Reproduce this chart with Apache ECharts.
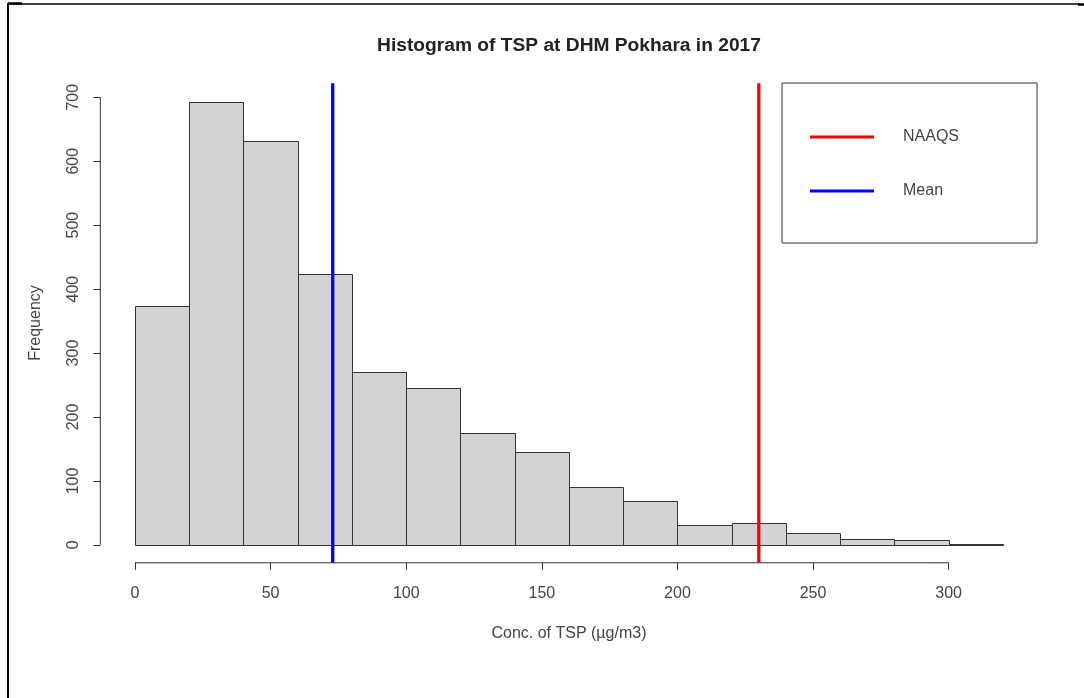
<!DOCTYPE html>
<html>
<head>
<meta charset="utf-8">
<script src="https://cdn.jsdelivr.net/npm/echarts@6/dist/echarts.min.js"></script>
<style>html,body{margin:0;padding:0;background:#fff;}#c{width:1084px;height:698px;}</style>
</head>
<body>
<div id="c"></div>
<script>
// ---- data ----
const binStart = [0, 20, 40, 60, 80, 100, 120, 140, 160, 180, 200, 220, 240, 260, 280, 300];
const binEnd   = [20, 40, 60, 80, 100, 120, 140, 160, 180, 200, 220, 240, 260, 280, 300, 320];
const counts   = [374, 693, 631, 424, 270, 245, 175, 145, 90, 68, 31, 34, 18, 9, 7, 2];
const xTicks = [0, 50, 100, 150, 200, 250, 300];
const yTicks = [0, 100, 200, 300, 400, 500, 600, 700];
const naaqsValue = 230;
const meanValue = 72.9;
const titleText = 'Histogram of TSP at DHM Pokhara in 2017';
const xName = 'Conc. of TSP (\u00b5g/m3)';
const yName = 'Frequency';

// axis range (R-style 4% extension)
const xMin = -12.8, xMax = 332.8;
const yMin = -28, yMax = 722;

const histData = binStart.map((s, i) => [s, binEnd[i], counts[i]]);

const chart = echarts.init(document.getElementById('c'));
const font = 'Liberation Sans, Arial, sans-serif';
const txt = '#444';
const lineCol = '#333';

chart.setOption({
  animation: false,
  backgroundColor: '#fff',
  title: {
    text: titleText,
    left: 569, top: 36, padding: 0, textAlign: 'center',
    textStyle: { fontFamily: font, fontSize: 19.2, fontWeight: 'bold', color: '#222', lineHeight: 20 }
  },
  grid: { left: 100.3, right: 46.4, top: 83.2, bottom: 135.2, containLabel: false },
  legend: {
    data: ['NAAQS', 'Mean'],
    orient: 'vertical',
    left: 782, top: 83,
    padding: [46, 78, 44, 28],
    itemGap: 38,
    itemWidth: 64, itemHeight: 3,
    icon: 'rect',
    borderColor: lineCol, borderWidth: 1,
    textStyle: { fontFamily: font, fontSize: 16, color: txt, padding: [0, 0, 0, 24], lineHeight: 16 }
  },
  xAxis: {
    type: 'value', min: xMin, max: xMax,
    name: xName, nameLocation: 'middle', nameGap: 63,
    nameTextStyle: { fontFamily: font, fontSize: 16, color: txt },
    axisLine: { show: false, onZero: false },
    splitLine: { show: false },
    axisTick: { show: true, customValues: xTicks, length: 7, lineStyle: { color: lineCol } },
    axisLabel: { customValues: xTicks, margin: 23, fontFamily: font, fontSize: 16, color: txt }
  },
  yAxis: {
    type: 'value', min: yMin, max: yMax,
    name: yName, nameLocation: 'middle', nameGap: 57,
    nameTextStyle: { fontFamily: font, fontSize: 16, color: txt },
    axisLine: { show: false, onZero: false },
    splitLine: { show: false },
    axisTick: { show: true, customValues: yTicks, length: 7, lineStyle: { color: lineCol } },
    axisLabel: { customValues: yTicks, rotate: 90, margin: 19, fontFamily: font, fontSize: 16, color: txt }
  },
  series: [
    {
      type: 'custom', name: 'hist',
      data: histData,
      encode: { x: [0, 1], y: 2 },
      renderItem: function (params, api) {
        const p0 = api.coord([api.value(0), 0]);
        const p1 = api.coord([api.value(1), api.value(2)]);
        const x0 = Math.round(p0[0]) + 0.5, x1 = Math.round(p1[0]) + 0.5;
        const yb = Math.round(p0[1]) + 0.5, yt = Math.round(p1[1]) + 0.5;
        return {
          type: 'rect',
          shape: { x: x0, y: yt, width: x1 - x0, height: yb - yt },
          style: { fill: '#D3D3D3', stroke: lineCol, lineWidth: 1 }
        };
      },
      z: 2
    },
    {
      type: 'line', name: 'xAxisLine', silent: true, clip: false, symbol: 'none',
      data: [[xTicks[0], yMin], [xTicks[xTicks.length - 1], yMin]],
      lineStyle: { color: lineCol, width: 1 }, z: 3
    },
    {
      type: 'line', name: 'yAxisLine', silent: true, clip: false, symbol: 'none',
      data: [[xMin, yTicks[0]], [xMin, yTicks[yTicks.length - 1]]],
      lineStyle: { color: lineCol, width: 1 }, z: 3
    },
    {
      type: 'line', name: 'NAAQS', silent: true, clip: false, symbol: 'none',
      data: [[naaqsValue, yMin], [naaqsValue, yMax]],
      color: '#FF0000', itemStyle: { color: '#FF0000' },
      lineStyle: { color: '#FF0000', width: 3.3 }, z: 5
    },
    {
      type: 'line', name: 'Mean', silent: true, clip: false, symbol: 'none',
      data: [[meanValue, yMin], [meanValue, yMax]],
      color: '#0000FF', itemStyle: { color: '#0000FF' },
      lineStyle: { color: '#0000FF', width: 3.3 }, z: 5
    }
  ],
  graphic: [
    { type: 'line', shape: { x1: 8, y1: 3, x2: 8, y2: 698 }, style: { stroke: '#000', lineWidth: 2 }, silent: true },
    { type: 'line', shape: { x1: 7, y1: 4, x2: 1080, y2: 4 }, style: { stroke: '#000', lineWidth: 1.5 }, silent: true },
    { type: 'line', shape: { x1: 8, y1: 3.5, x2: 22, y2: 3.5 }, style: { stroke: '#000', lineWidth: 2.5 }, silent: true },
    { type: 'line', shape: { x1: 1078, y1: 4.5, x2: 1084, y2: 4.5 }, style: { stroke: '#000', lineWidth: 2.5 }, silent: true }
  ]
});
</script>
</body>
</html>
